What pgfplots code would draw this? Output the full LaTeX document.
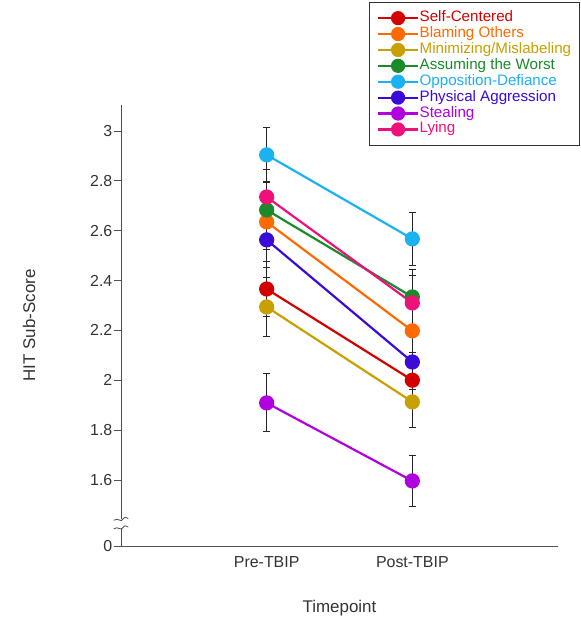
\documentclass[border=0pt]{standalone}
\usepackage{pgfplots}
\pgfplotsset{compat=1.18}
\usepackage{fontspec}
\setmainfont{Liberation Sans}
\definecolor{cSelf}{RGB}{212,0,0}
\definecolor{cBlame}{RGB}{255,106,0}
\definecolor{cMini}{RGB}{200,160,0}
\definecolor{cAssume}{RGB}{26,138,42}
\definecolor{cOpp}{RGB}{26,178,240}
\definecolor{cPhys}{RGB}{58,10,216}
\definecolor{cSteal}{RGB}{176,0,224}
\definecolor{cLie}{RGB}{240,16,122}
\definecolor{axgray}{RGB}{80,80,80}
\begin{document}
\begin{tikzpicture}
\path[use as bounding box] (0,0) rectangle (581bp,620bp);
\begin{axis}[
  at={(121bp,74bp)}, anchor=south west,
  scale only axis,
  width=437bp, height=441bp,
  xmin=0, xmax=3,
  ymin=1.335, ymax=3.104,
  axis lines=left,
  axis line style={-, axgray, line width=0.9pt},
  clip=false,
  xtick={1,2},
  xticklabels={Pre-TBIP,Post-TBIP},
  x tick style={draw=none},
  ytick={1.335,1.6,1.8,2.0,2.2,2.4,2.6,2.8,3.0},
  yticklabels={0,1.6,1.8,2,2.2,2.4,2.6,2.8,3},
  y tick style={axgray, line width=0.8pt},
  tick align=outside,
  major tick length=7bp,
  ticklabel style={font=\fontsize{16}{18}\selectfont, text=black!80},
  yticklabel style={inner sep=1.5bp},
  xlabel={Timepoint},
  ylabel={HIT Sub-Score},
  label style={font=\fontsize{17}{19}\selectfont, text=black!80},
  xlabel style={at={(axis description cs:0.5,-0.1406)}, anchor=center},
  ylabel style={at={(axis description cs:-0.2105,0.5)}, anchor=center},
  error bars/error bar style={black!85, line width=1pt, solid},
  error bars/error mark options={rotate=90, black!85, mark size=3.5bp, line width=1pt, solid},
  legend style={at={(1.050,1.2336)}, anchor=north east, draw=black!80,
    font=\fontsize{15.2}{16}\selectfont, row sep=0pt, inner xsep=8bp, inner ysep=8bp,
    nodes={inner sep=0.5bp, text height=11bp, text depth=3.9bp},
    cells={anchor=west}},
  legend image post style={line width=2.2pt},
  legend image code/.code={
    \pgfsetlinewidth{2.2pt}
    \draw[#1, mark=none, line width=2.2pt] (0bp,0bp) -- (40bp,0bp);
    \draw[#1, mark size=6bp, only marks] plot coordinates {(20bp,0bp)};
  },
]
\addplot[color=cSelf, solid, line width=2.2pt, mark=*, mark size=6.5bp, mark options={fill=cSelf, draw=cSelf, solid}, error bars/.cd, y dir=both, y explicit]
  coordinates {(1,2.366) +- (0,0.11) (2,2.000) +- (0,0.11)};
\addlegendentry{\textcolor{cSelf}{Self-Centered}}
\addplot[color=cBlame, solid, line width=2.2pt, mark=*, mark size=6.5bp, mark options={fill=cBlame, draw=cBlame, solid}, error bars/.cd, y dir=both, y explicit]
  coordinates {(1,2.635) +- (0,0.11) (2,2.198) +- (0,0.11)};
\addlegendentry{\textcolor{cBlame}{Blaming Others}}
\addplot[color=cMini, solid, line width=2.2pt, mark=*, mark size=6.5bp, mark options={fill=cMini, draw=cMini, solid}, error bars/.cd, y dir=both, y explicit]
  coordinates {(1,2.294) +- (0,0.12) (2,1.913) +- (0,0.104)};
\addlegendentry{\textcolor{cMini}{Minimizing/Mislabeling}}
\addplot[color=cAssume, solid, line width=2.2pt, mark=*, mark size=6.5bp, mark options={fill=cAssume, draw=cAssume, solid}, error bars/.cd, y dir=both, y explicit]
  coordinates {(1,2.683) +- (0,0.11) (2,2.334) +- (0,0.11)};
\addlegendentry{\textcolor{cAssume}{Assuming the Worst}}
\addplot[color=cOpp, solid, line width=2.2pt, mark=*, mark size=6.5bp, mark options={fill=cOpp, draw=cOpp, solid}, error bars/.cd, y dir=both, y explicit]
  coordinates {(1,2.904) +- (0,0.108) (2,2.567) +- (0,0.106)};
\addlegendentry{\textcolor{cOpp}{Opposition-Defiance}}
\addplot[color=cPhys, solid, line width=2.2pt, mark=*, mark size=6.5bp, mark options={fill=cPhys, draw=cPhys, solid}, error bars/.cd, y dir=both, y explicit]
  coordinates {(1,2.563) +- (0,0.11) (2,2.073) +- (0,0.11)};
\addlegendentry{\textcolor{cPhys}{Physical Aggression}}
\addplot[color=cSteal, solid, line width=2.2pt, mark=*, mark size=6.5bp, mark options={fill=cSteal, draw=cSteal, solid}, error bars/.cd, y dir=both, y explicit]
  coordinates {(1,1.909) +- (0,0.116) (2,1.596) +- (0,0.102)};
\addlegendentry{\textcolor{cSteal}{Stealing}}
\addplot[color=cLie, solid, line width=2.2pt, mark=*, mark size=6.5bp, mark options={fill=cLie, draw=cLie, solid}, error bars/.cd, y dir=both, y explicit]
  coordinates {(1,2.735) +- (0,0.11) (2,2.310) +- (0,0.11)};
\addlegendentry{\textcolor{cLie}{Lying}}
% axis break
\fill[white] (axis cs:-0.02,1.406) rectangle (axis cs:0.02,1.442);
\draw[axgray, line width=0.8pt] (axis cs:-0.05,1.438) .. controls (axis cs:-0.02,1.452) and (axis cs:0.0,1.425) .. (axis cs:0.015,1.444) .. controls (axis cs:0.025,1.452) .. (axis cs:0.05,1.445);
\draw[axgray, line width=0.8pt] (axis cs:-0.05,1.404) .. controls (axis cs:-0.02,1.418) and (axis cs:0.0,1.391) .. (axis cs:0.015,1.410) .. controls (axis cs:0.025,1.418) .. (axis cs:0.05,1.411);
\end{axis}
\end{tikzpicture}
\end{document}
